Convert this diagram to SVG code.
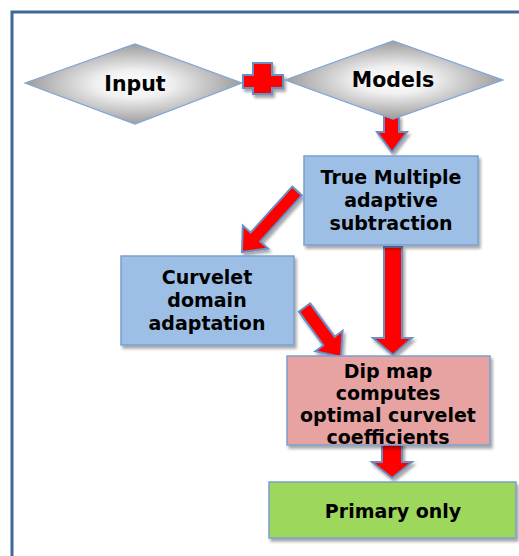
<svg xmlns="http://www.w3.org/2000/svg" width="519" height="556" viewBox="0 0 519 556">
<defs>
<radialGradient id="dg" cx="50%" cy="50%" r="50%">
<stop offset="0" stop-color="#ffffff"/>
<stop offset="0.35" stop-color="#f0f0f0"/>
<stop offset="1" stop-color="#9c9c9c"/>
</radialGradient>
<filter id="sh" x="-10%" y="-10%" width="130%" height="140%">
<feDropShadow dx="2" dy="3" stdDeviation="1.8" flood-color="#000" flood-opacity="0.35"/>
</filter>
<style>
.t{font-family:"DejaVu Sans","Verdana",sans-serif;font-weight:bold;fill:#000;text-anchor:middle}
.bt{font-size:19px}
.dt{font-size:20.5px}
.box{stroke:#7a9fd0;stroke-width:1.5;filter:url(#sh)}
.dia{fill:url(#dg);stroke:#7ea6d6;stroke-width:1.2}
.arr{fill:#ff0000;stroke:#6a8fc4;stroke-width:2;stroke-linejoin:miter;filter:url(#sh)}
</style>
</defs>
<rect width="519" height="556" fill="#ffffff"/>
<path d="M12,556 L12,12 L519,12" fill="none" stroke="#41689a" stroke-width="3"/>

<g id="connectors">
<path class="arr" d="M384,116 L399,116 L399,132 L407,132 L392,152 L377,132 L384,132 Z"/>
<path class="arr" d="M292.2,186.6 L301.8,195.4 L260.2,241.5 L268,248.5 L242,252 L242.8,225.7 L250.6,232.7 Z"/>
<path class="arr" d="M384,247 L402,247 L402,338 L412,338 L393,355 L373,338 L384,338 Z"/>
<path class="arr" d="M310.1,303.3 L334.6,336.8 L342.6,330.8 L341,357 L315.4,351.2 L323.4,345.2 L298.9,311.7 Z"/>
<path class="arr" d="M382,443 L402,443 L402,462 L412,462 L392,478 L372,462 L382,462 Z"/>
<path class="arr" d="M253,63 L272,63 L272,75 L283,75 L283,88 L272,88 L272,94 L253,94 L253,88 L243,88 L243,75 L253,75 Z"/>
</g>

<g id="input">
<path class="dia" d="M25,83 L135,44 L242,83 L135,124 Z"/>
<text class="t dt" x="135" y="91">Input</text>
</g>

<g id="models">
<path class="dia" d="M285,80 L393,41 L503,80 L393,119 Z"/>
<text class="t dt" x="393" y="87">Models</text>
</g>

<g id="true-multiple">
<rect class="box" x="304" y="156" width="174" height="89" fill="#9dbfe6"/>
<text class="t bt" x="391" y="184">True Multiple</text>
<text class="t bt" x="391" y="207">adaptive</text>
<text class="t bt" x="391" y="230">subtraction</text>
</g>

<g id="curvelet">
<rect class="box" x="121" y="256" width="173" height="89" fill="#9dbfe6"/>
<text class="t bt" x="207" y="284">Curvelet</text>
<text class="t bt" x="207" y="307">domain</text>
<text class="t bt" x="207" y="330">adaptation</text>
</g>

<g id="dip-map">
<rect class="box" x="287" y="356" width="203" height="89" fill="#e6a3a1"/>
<text class="t bt" x="388" y="378">Dip map</text>
<text class="t bt" x="388" y="400">computes</text>
<text class="t bt" x="388" y="422">optimal curvelet</text>
<text class="t bt" x="388" y="444">coefficients</text>
</g>

<g id="primary">
<rect class="box" x="269" y="482" width="247" height="56" fill="#9dd75c"/>
<text class="t bt" x="393" y="518">Primary only</text>
</g>
</svg>
